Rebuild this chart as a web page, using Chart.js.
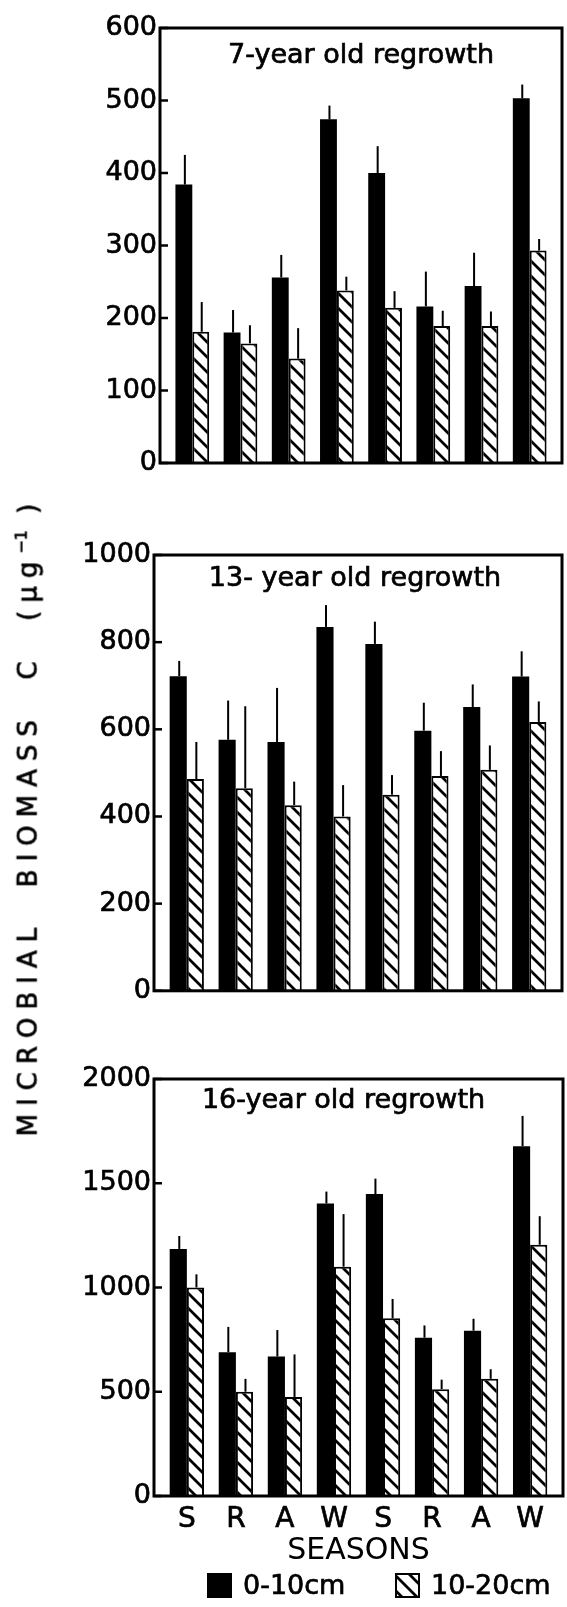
<!DOCTYPE html>
<html>
<head>
<meta charset="utf-8">
<script src="https://cdn.jsdelivr.net/npm/chart.js@4.4.0/dist/chart.umd.min.js"></script>
<style>
  html, body { margin: 0; padding: 0; background: #fff; }
  body { width: 567px; height: 1607px; position: relative; overflow: hidden; font-family: 'DejaVu Sans', sans-serif; }
  canvas { position: absolute; left: 0; }
  #ytitle {
    position: absolute; left: 27px; top: 816px;
    transform: translate(-50%, -50%) rotate(-90deg);
    white-space: nowrap; font-size: 26px; letter-spacing: 8px; color: #000; line-height: 1;
    -webkit-text-stroke: 0.7px #000;
  }
  #ytitle sup { font-size: 16px; letter-spacing: 0; }
</style>
</head>
<body>
<canvas id="c7" width="567" height="490" style="top:0px"></canvas>
<canvas id="c13" width="567" height="510" style="top:500px"></canvas>
<canvas id="c16" width="567" height="577" style="top:1030px"></canvas>
<div id="ytitle">MICROBIAL&nbsp; BIOMASS&nbsp; C&nbsp; (μg<sup>−1</sup>&nbsp;)</div>
<script>
// Seasons sampled over two years
const seasons = ['S', 'R', 'A', 'W', 'S', 'R', 'A', 'W'];
const depthLabels = ['0-10cm', '10-20cm'];

// 7-year old regrowth: means and upper ends of the error bars
const age7Top = [384, 180, 256, 474, 400, 216, 244, 503];
const age7TopHi = [425, 211, 287, 493, 437, 264, 290, 522];
const age7Sub = [181, 165, 144, 238, 214, 189, 189, 293];
const age7SubHi = [222, 190, 186, 257, 237, 210, 209, 309];

// 13-year old regrowth
const age13Top = [722, 576, 571, 835, 796, 597, 651, 721];
const age13TopHi = [757, 666, 695, 885, 847, 661, 703, 779];
const age13Sub = [486, 465, 426, 400, 450, 493, 507, 617];
const age13SubHi = [571, 653, 480, 472, 495, 550, 563, 664];

// 16-year old regrowth
const age16Top = [1185, 690, 669, 1403, 1448, 759, 793, 1678];
const age16TopHi = [1247, 811, 796, 1460, 1522, 818, 850, 1823];
const age16Sub = [1000, 500, 475, 1100, 852, 512, 562, 1205];
const age16SubHi = [1063, 562, 679, 1352, 945, 558, 608, 1342];

// y-axis ticks per panel
const yTicks7 = [0, 100, 200, 300, 400, 500, 600];
const yTicks13 = [0, 200, 400, 600, 800, 1000];
const yTicks16 = [0, 500, 1000, 1500, 2000];

const FONT = "'DejaVu Sans', sans-serif";
const INK = 0.7; // extra stroke that thickens the lettering a little
Chart.defaults.color = '#000';
Chart.defaults.font.family = FONT;

// diagonal hatching for the deeper layer
function hatchPattern() {
  const p = 15;
  const c = document.createElement('canvas');
  c.width = p; c.height = p;
  const g = c.getContext('2d');
  g.fillStyle = '#fff';
  g.fillRect(0, 0, p, p);
  g.strokeStyle = '#000';
  g.lineWidth = 2.8;
  g.beginPath();
  for (const x0 of [-p, 0, p]) {
    g.moveTo(x0 - 1, -1);
    g.lineTo(x0 + p + 1, p + 1);
  }
  g.stroke();
  return g.createPattern(c, 'repeat');
}
const HATCH = hatchPattern();

function inkText(ctx, text, x, y) {
  ctx.lineWidth = INK;
  ctx.strokeStyle = '#000';
  ctx.strokeText(text, x, y);
  ctx.fillText(text, x, y);
}

// frame, inward ticks, error bars and the panel heading
const panelDecor = {
  id: 'panelDecor',
  afterDatasetsDraw(chart, args, o) {
    const { ctx, chartArea: a, scales: { y } } = chart;
    ctx.save();
    ctx.strokeStyle = '#000';
    ctx.lineCap = 'butt';
    ctx.lineWidth = 2;
    o.upper.forEach((hi, d) => {
      chart.getDatasetMeta(d).data.forEach((bar, i) => {
        const x = bar.x + 1;
        ctx.beginPath();
        ctx.moveTo(x, bar.y);
        ctx.lineTo(x, y.getPixelForValue(hi[i]));
        ctx.stroke();
      });
    });
    ctx.lineWidth = 3;
    ctx.strokeRect(a.left, a.top, a.right - a.left, a.bottom - a.top);
    ctx.lineWidth = 2.5;
    y.ticks.forEach(t => {
      const py = y.getPixelForValue(t.value);
      ctx.beginPath();
      ctx.moveTo(a.left, py);
      ctx.lineTo(a.left + 8, py);
      ctx.stroke();
    });
    ctx.fillStyle = '#000';
    ctx.font = '27px ' + FONT;
    ctx.textAlign = 'center';
    ctx.textBaseline = 'alphabetic';
    inkText(ctx, o.title, (a.left + a.right) / 2 + o.dx, a.top + o.baseline);
    ctx.restore();
  }
};

// legend row under the season axis
const depthLegend = {
  id: 'depthLegend',
  afterDraw(chart, args, o) {
    if (!o.show) return;
    const { ctx } = chart;
    ctx.save();
    ctx.font = o.size + 'px ' + FONT;
    ctx.textAlign = 'left';
    ctx.textBaseline = 'middle';
    chart.data.datasets.forEach((ds, i) => {
      const x = o.x[i], yTop = o.y, b = o.box;
      ctx.fillStyle = ds.backgroundColor;
      ctx.fillRect(x, yTop, b, b);
      if (ds.borderWidth) {
        ctx.lineWidth = ds.borderWidth;
        ctx.strokeStyle = ds.borderColor;
        ctx.strokeRect(x + ds.borderWidth / 2, yTop + ds.borderWidth / 2, b - ds.borderWidth, b - ds.borderWidth);
      }
      ctx.fillStyle = '#000';
      inkText(ctx, ds.label, x + b + o.gap, yTop + b / 2 + 1);
    });
    ctx.restore();
  }
};

function makePanel(id, cfg) {
  const el = document.getElementById(id);
  const canvasTop = cfg.canvasTop, H = el.height;
  const xh = cfg.showSeasons ? 76 : 0;
  return new Chart(el, {
    type: 'bar',
    data: {
      datasets: [
        {
          label: depthLabels[0],
          data: cfg.top.map((v, i) => ({ x: i, y: v })),
          backgroundColor: '#000',
          borderWidth: 0
        },
        {
          label: depthLabels[1],
          data: cfg.sub.map((v, i) => ({ x: i, y: v })),
          backgroundColor: HATCH,
          borderColor: '#000',
          borderWidth: 2
        }
      ]
    },
    options: {
      responsive: false,
      animation: false,
      events: [],
      categoryPercentage: 0.7,
      barPercentage: 1.0,
      layout: {
        padding: {
          top: cfg.areaTop - canvasTop,
          right: 567 - cfg.right,
          bottom: canvasTop + H - cfg.areaBottom - xh,
          left: 0
        }
      },
      plugins: {
        legend: { display: false },
        tooltip: { enabled: false },
        panelDecor: { title: cfg.title, dx: cfg.dx, baseline: cfg.baseline, upper: [cfg.topHi, cfg.subHi] },
        depthLegend: { show: cfg.showSeasons, x: [207, 395], y: 1573 - canvasTop, box: 25, gap: 11, size: 27 }
      },
      scales: {
        x: {
          type: 'linear',
          offset: false,
          min: -0.67,
          max: 7.67,
          display: cfg.showSeasons,
          afterBuildTicks: s => { s.ticks = seasons.map((_, i) => ({ value: i })); },
          afterFit: s => { s.height = xh; },
          grid: { display: false, drawTicks: false },
          border: { display: false },
          ticks: {
            padding: 7,
            font: { size: 28 },
            color: '#000',
            textStrokeColor: '#000',
            textStrokeWidth: INK,
            maxRotation: 0,
            autoSkip: false,
            callback: v => seasons[v]
          },
          title: {
            display: true,
            text: 'SEASONS',
            font: { size: 30 },
            color: '#000',
            padding: { top: 0, bottom: 3 }
          }
        },
        y: {
          min: 0,
          max: cfg.ticks[cfg.ticks.length - 1],
          afterBuildTicks: s => { s.ticks = cfg.ticks.map(v => ({ value: v })); },
          afterFit: s => { s.width = cfg.left; },
          grid: { display: false, drawTicks: false },
          border: { display: false },
          ticks: {
            padding: 3,
            font: { size: 27 },
            color: '#000',
            textStrokeColor: '#000',
            textStrokeWidth: INK,
            callback: v => String(v)
          }
        }
      }
    },
    plugins: [panelDecor, depthLegend]
  });
}

makePanel('c7', {
  canvasTop: 0, areaTop: 28, areaBottom: 463, left: 160, right: 562,
  top: age7Top, topHi: age7TopHi, sub: age7Sub, subHi: age7SubHi,
  ticks: yTicks7, title: '7-year old regrowth', dx: 0, baseline: 35, showSeasons: false
});
makePanel('c13', {
  canvasTop: 500, areaTop: 555, areaBottom: 993, left: 154, right: 562,
  top: age13Top, topHi: age13TopHi, sub: age13Sub, subHi: age13SubHi,
  ticks: yTicks13, title: '13- year old regrowth', dx: -3, baseline: 31, showSeasons: false
});
makePanel('c16', {
  canvasTop: 1030, areaTop: 1079, areaBottom: 1496, left: 154, right: 563,
  top: age16Top, topHi: age16TopHi, sub: age16Sub, subHi: age16SubHi,
  ticks: yTicks16, title: '16-year old regrowth', dx: -15, baseline: 29, showSeasons: true
});
</script>
</body>
</html>
